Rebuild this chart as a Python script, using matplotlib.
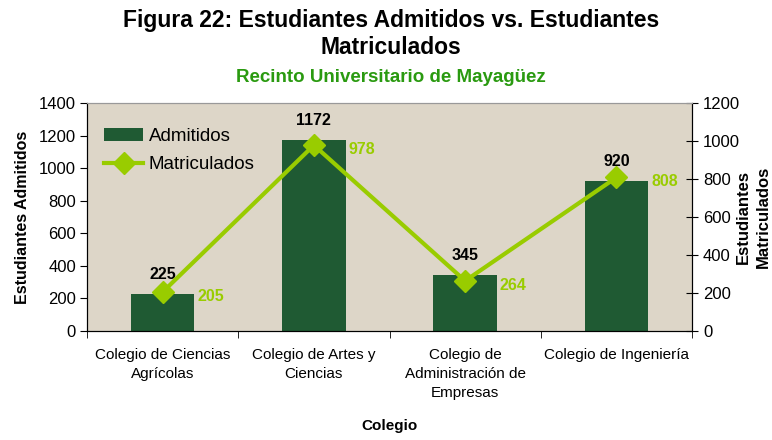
import numpy as np
import matplotlib.pyplot as plt

plt.rcParams['font.family'] = ['Liberation Sans', 'DejaVu Sans']

# datos
colegios = ["Colegio de Ciencias\nAgrícolas", "Colegio de Artes y\nCiencias",
            "Colegio de\nAdministración de\nEmpresas", "Colegio de Ingeniería"]
admitidos = [225, 1172, 345, 920]
matriculados = [205, 978, 264, 808]

verde_barra = "#1f5a33"
verde_linea = "#99cc00"
fondo = "#ddd6c8"

fig = plt.figure(figsize=(7.72, 4.4), dpi=100)
ax = fig.add_axes([87/772, 1 - 331/440, 605/772, 228/440])
ax2 = ax.twinx()

x = np.arange(len(colegios))
ax.set_facecolor(fondo)
barras = ax.bar(x, admitidos, width=0.42, color=verde_barra, label="Admitidos", zorder=2)
ax.set_xlim(-0.5, len(colegios) - 0.5)
ax.set_ylim(0, 1400)
ax.set_yticks(range(0, 1401, 200))

linea, = ax2.plot(x, matriculados, color=verde_linea, lw=3, marker="D", ms=11,
                  label="Matriculados", zorder=3)
ax2.set_ylim(0, 1200)
ax2.set_yticks(range(0, 1201, 200))

# etiquetas de valores
for xi, v in zip(x, admitidos):
    ax.annotate(str(v), (xi, v), xytext=(0, 14), textcoords="offset points",
                ha="center", va="center", fontsize=11.5, fontweight="bold")
for xi, v in zip(x, matriculados):
    ax2.annotate(str(v), (xi, v), xytext=(25, -3), textcoords="offset points",
                 ha="left", va="center", fontsize=11.5, fontweight="bold", color=verde_linea)

ax.set_xticks(x)
ax.set_xticklabels(colegios, fontsize=11, va="top", linespacing=1.45)
ax.set_xticks(np.arange(-0.5, len(colegios)), minor=True)
ax.tick_params(axis="x", which="major", length=0, pad=12)
ax.tick_params(axis="x", which="minor", length=5, direction="out")
ax.tick_params(axis="y", labelsize=12, length=5, pad=3)
ax2.tick_params(axis="y", labelsize=12, length=8, direction="inout", pad=4)

for a in (ax, ax2):
    a.spines["top"].set_color("#999999")
    a.spines["left"].set_color("black")
    a.spines["right"].set_color("black")
    a.spines["bottom"].set_color("black")

ax.set_ylabel("Estudiantes Admitidos", fontsize=11.5, fontweight="bold", labelpad=6)
fig.text(753/772, 1 - 217/440, "Estudiantes\nMatriculados", rotation=90, ha="center",
         va="center", fontsize=12, fontweight="bold", linespacing=1.4)
ax.set_xlabel("Colegio", fontsize=11, fontweight="bold", labelpad=14)

ax.legend(handles=[barras, linea], loc="upper left", frameon=False, fontsize=13.5,
          handlelength=2.1, borderaxespad=0.5, labelspacing=0.6, handletextpad=0.3,
          bbox_to_anchor=(0.0, 0.965))

fig.text(391/772, 1 - 21/440, "Figura 22: Estudiantes Admitidos vs. Estudiantes",
         ha="center", va="center", fontsize=16.5, fontweight="bold")
fig.text(391/772, 1 - 48/440, "Matriculados",
         ha="center", va="center", fontsize=16.5, fontweight="bold")
fig.text(391/772, 1 - 78/440, "Recinto Universitario de Mayagüez", ha="center", va="center",
         fontsize=13.5, fontweight="bold", color="#2a9a10")

fig.savefig("out.png", dpi=100)
